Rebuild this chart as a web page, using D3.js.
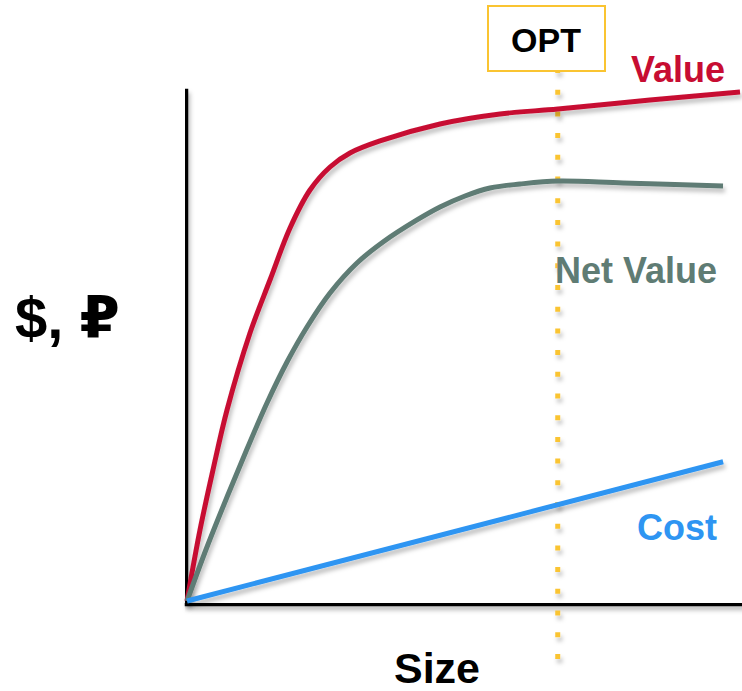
<!DOCTYPE html>
<html>
<head>
<meta charset="utf-8">
<script src="https://cdn.jsdelivr.net/npm/d3@7"></script>
<style>
  html, body { margin: 0; padding: 0; background: #fff; }
  svg { display: block; }
  text { font-family: "Liberation Sans", Arial, "DejaVu Sans", sans-serif; font-weight: bold; }
</style>
</head>
<body>
<svg id="chart" width="742" height="691"></svg>
<script>
// Size (0–100) against value units (0–100)
const valueSize = [0, 2.34, 4.68, 7.21, 11.35, 14.95, 18.56, 22.16, 25.77, 29.37, 34.77, 45.59, 56.40, 66.85, 83.42, 99.64];
const valueY    = [0, 13.92, 25.69, 37.45, 52.55, 62.94, 73.14, 80.59, 85.10, 87.84, 90.20, 93.53, 95.49, 96.47, 98.24, 99.80];

const netSize = [0, 3.60, 7.21, 10.81, 14.41, 18.02, 21.62, 25.77, 30.63, 35.32, 41.44, 45.59, 50.09, 54.59, 60.00, 66.85, 78.56, 96.58];
const netY    = [0, 10.59, 20.39, 29.80, 38.82, 46.86, 53.73, 60.39, 66.27, 70.39, 74.71, 77.25, 79.41, 80.98, 81.76, 82.35, 81.96, 81.37];

const costSize = [0, 96.6];
const costY    = [0, 27.3];

const optSize = 66.8;

const labels = { value: "Value", net: "Net Value", cost: "Cost", opt: "OPT", xTitle: "Size", yTitle: "$, ₽" };

const colors = { value: "#C70D32", net: "#5F7C74", cost: "#2E95F2", opt: "#FAC431", axis: "#000" };

const W = 742, H = 691;
const svg = d3.select("#chart");

const x = d3.scaleLinear().domain([0, 100]).range([187, 742]);
const y = d3.scaleLinear().domain([0, 100]).range([601, 91]);

// soft shadow used under the strokes (user-space region so flat lines keep it)
const defs = svg.append("defs");
const shadow = defs.append("filter").attr("id", "shadow")
  .attr("filterUnits", "userSpaceOnUse")
  .attr("x", 0).attr("y", 0).attr("width", W).attr("height", H);
shadow.append("feDropShadow")
  .attr("dx", 2).attr("dy", 4).attr("stdDeviation", 2)
  .attr("flood-color", "#000").attr("flood-opacity", 0.25);

// axes: bare lines, no ticks
const xAxis = d3.axisBottom(x).tickValues([]).tickSizeOuter(0);
const yAxis = d3.axisLeft(y).tickValues([]).tickSizeOuter(0);

svg.append("g")
  .attr("transform", `translate(0,${y(0) + 2})`)
  .attr("filter", "url(#shadow)")
  .call(xAxis)
  .call(g => g.select(".domain").attr("stroke", colors.axis).attr("stroke-width", 5.5)
    .attr("stroke-linecap", "square"));

svg.append("g")
  .attr("transform", `translate(${x(0) - 2},0)`)
  .attr("filter", "url(#shadow)")
  .call(yAxis)
  .call(g => g.select(".domain").attr("stroke", colors.axis).attr("stroke-width", 5.5)
    .attr("stroke-linecap", "square"));

// optimum marker: dotted vertical line
svg.append("line")
  .attr("x1", x(optSize)).attr("x2", x(optSize))
  .attr("y1", 68).attr("y2", 664)
  .attr("stroke", colors.opt)
  .attr("stroke-width", 5)
  .attr("stroke-dasharray", "5 16.7")
  .attr("filter", "url(#shadow)");

const line = d3.line()
  .x(d => x(d[0]))
  .y(d => y(d[1]))
  .curve(d3.curveCatmullRom.alpha(0.5));

const series = [
  { key: "value", xs: valueSize, ys: valueY },
  { key: "net", xs: netSize, ys: netY },
  { key: "cost", xs: costSize, ys: costY }
];

svg.append("g").selectAll("path")
  .data(series)
  .join("path")
  .attr("d", s => line(s.xs.map((v, i) => [v, s.ys[i]])))
  .attr("fill", "none")
  .attr("stroke", s => colors[s.key])
  .attr("stroke-width", 5)
  .attr("stroke-linecap", "butt")
  .attr("stroke-linejoin", "round")
  .attr("filter", "url(#shadow)");

// OPT box
svg.append("rect")
  .attr("x", 488).attr("y", 6).attr("width", 117).attr("height", 65)
  .attr("fill", "#fff")
  .attr("stroke", colors.opt).attr("stroke-width", 2);
svg.append("text")
  .attr("x", 546).attr("y", 52)
  .attr("text-anchor", "middle")
  .attr("font-size", 34)
  .attr("fill", "#000")
  .text(labels.opt);

// series labels
svg.append("text").attr("x", 631).attr("y", 82).attr("font-size", 36)
  .attr("fill", colors.value).text(labels.value);
svg.append("text").attr("x", 555).attr("y", 283).attr("font-size", 36)
  .attr("fill", colors.net).text(labels.net);
svg.append("text").attr("x", 637).attr("y", 540).attr("font-size", 36)
  .attr("fill", colors.cost).text(labels.cost);

// axis titles
svg.append("text").attr("x", 437).attr("y", 683).attr("font-size", 43)
  .attr("text-anchor", "middle").attr("fill", "#000").text(labels.xTitle);
svg.append("text").attr("x", 15).attr("y", 338).attr("font-size", 58)
  .attr("fill", "#000").text(labels.yTitle);
</script>
</body>
</html>
